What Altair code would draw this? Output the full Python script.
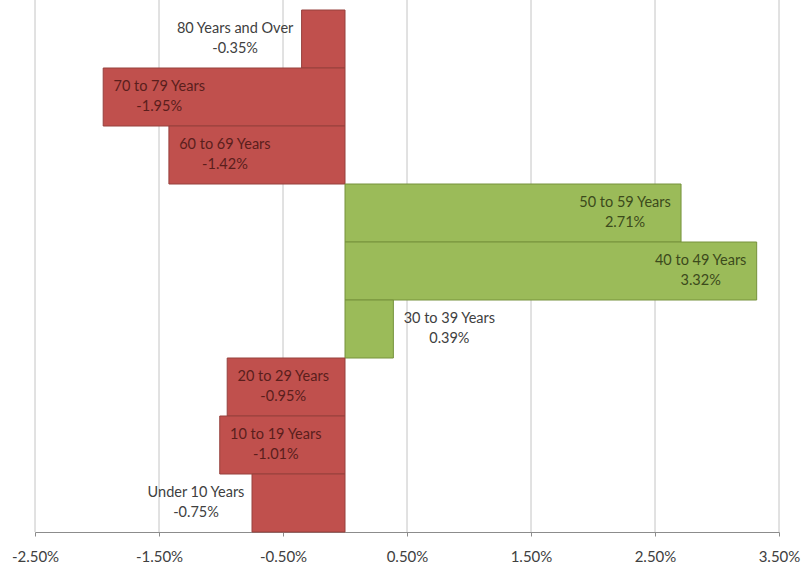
import altair as alt
import pandas as pd

# Change in share of population by age group (percentage points)
groups = [
    "80 Years and Over",
    "70 to 79 Years",
    "60 to 69 Years",
    "50 to 59 Years",
    "40 to 49 Years",
    "30 to 39 Years",
    "20 to 29 Years",
    "10 to 19 Years",
    "Under 10 Years",
]
changes = [-0.35, -1.95, -1.42, 2.71, 3.32, 0.39, -0.95, -1.01, -0.75]
ticks = [-2.5, -1.5, -0.5, 0.5, 1.5, 2.5, 3.5]

W, H = 744, 522
FONT = "Lato"
FIT = 0.85  # bars longer than this carry their label inside

df = pd.DataFrame({"group": groups, "change": changes})
grid_df = pd.DataFrame({"tick": ticks})

x_scale = alt.Scale(domain=[ticks[0], ticks[-1]], nice=False, zero=False)
pct_expr = "replace(format(datum.value, '.2f'), '\u2212', '-') + '%'"

x_axis = alt.Axis(
    values=ticks,
    grid=False,
    title=None,
    labelExpr=pct_expr,
    labelFont=FONT,
    labelFontSize=15,
    labelColor="#404040",
    labelPadding=13,
    tickSize=4,
    tickColor="#8c8c8c",
    domainColor="#8c8c8c",
    labelFlush=False,
)

grid = alt.Chart(grid_df).mark_rule(color="#c4c4c4", strokeWidth=1).encode(
    x=alt.X("tick:Q", scale=x_scale, axis=x_axis),
    y=alt.value(-10),
    y2=alt.value(H),
)

y_enc = alt.Y(
    "group:N",
    sort=groups,
    axis=None,
    scale=alt.Scale(paddingInner=0, paddingOuter=0),
)

bars = alt.Chart(df).mark_bar(strokeWidth=1).encode(
    x=alt.X("change:Q", scale=x_scale, title=None),
    x2=alt.datum(0),
    y=y_enc,
    fill=alt.condition(alt.datum.change < 0, alt.value("#c0504d"), alt.value("#9bbb59")),
    stroke=alt.condition(alt.datum.change < 0, alt.value("#96403d"), alt.value("#76923c")),
)

labels = (
    alt.Chart(df)
    .transform_calculate(
        label="datum.group + '\\n' + replace(format(datum.change, '.2f'), '\u2212', '-') + '%'",
        tone=f"abs(datum.change) > {FIT} ? (datum.change < 0 ? 'neg' : 'pos') : 'out'",
    )
    .mark_text(
        font=FONT,
        fontSize=14.5,
        lineBreak="\n",
        lineHeight=20,
        align="center",
        baseline="middle",
        dy=-10,
        dx=alt.ExprRef(
            f"(datum.change < 0 ? 1 : -1) * (abs(datum.change) > {FIT} ? 1 : -1)"
            " * (length(datum.group) * 3.5 + 7)"
        ),
    )
    .encode(
        x=alt.X("change:Q", scale=x_scale, title=None),
        y=y_enc,
        text="label:N",
        color=alt.Color(
            "tone:N",
            scale=alt.Scale(domain=["out", "neg", "pos"], range=["#404040", "#5a1e1c", "#3c4a1c"]),
            legend=None,
        ),
    )
)

chart = (
    alt.layer(grid, bars, labels)
    .properties(
        width=W,
        height=H,
        padding={"left": 35, "top": 10, "right": 32, "bottom": 33},
        autosize=alt.AutoSizeParams(type="none"),
        background="white",
    )
    .configure_view(stroke=None)
)

chart.save("out.html", embed_options={"renderer": "svg", "actions": False})
